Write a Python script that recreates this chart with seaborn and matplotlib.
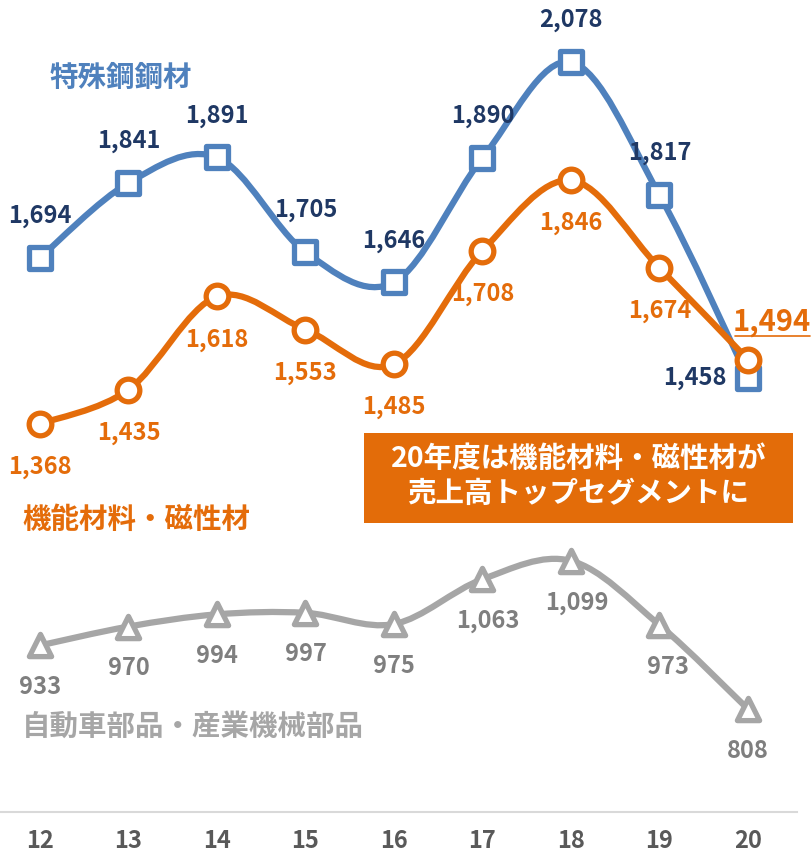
import numpy as np
import pandas as pd
import matplotlib
matplotlib.use("Agg")
import matplotlib.pyplot as plt
from matplotlib.path import Path
from matplotlib.patches import PathPatch, Rectangle
from matplotlib.lines import Line2D
import seaborn as sns

# データ（年度・セグメント別売上高）
years = ["12", "13", "14", "15", "16", "17", "18", "19", "20"]
steel = [1694, 1841, 1891, 1705, 1646, 1890, 2078, 1817, 1458]
functional = [1368, 1435, 1618, 1553, 1485, 1708, 1846, 1674, 1494]
parts = [933, 970, 994, 997, 975, 1063, 1099, 973, 808]

names = ["特殊鋼鋼材", "機能材料・磁性材", "自動車部品・産業機械部品"]
note_lines = ["20年度は機能材料・磁性材が", "売上高トップセグメントに"]

# 色
c_blue, c_blue_lbl = "#4F81BD", "#1F3864"
c_orange = "#E46C0A"
c_gray, c_gray_lbl, c_gray_name = "#A6A6A6", "#7F7F7F", "#A6A6A6"

sns.set_theme(style="white")
plt.rcParams["font.family"] = ["Noto Sans CJK JP", "DejaVu Sans"]

fig = plt.figure(figsize=(8.12, 8.55), dpi=100)
ax = fig.add_axes([0, 43 / 855, 797 / 812, 812 / 855])

x = np.arange(len(years))


def smooth_path(xs, ys):
    # Excel風のスムージング（ベジェ曲線）
    pts = np.column_stack([xs, ys]).astype(float)
    n = len(pts)
    verts, codes = [pts[0]], [Path.MOVETO]
    for i in range(n - 1):
        p0 = pts[i - 1] if i > 0 else pts[i]
        p1, p2 = pts[i], pts[i + 1]
        p3 = pts[i + 2] if i + 2 < n else pts[i + 1]
        verts += [p1 + (p2 - p0) / 6, p2 - (p3 - p1) / 6, p2]
        codes += [Path.CURVE4] * 3
    return Path(verts, codes)


def draw_series(vals, color, marker, msize, z):
    ax.add_patch(PathPatch(smooth_path(x, vals), facecolor="none", edgecolor=color,
                           lw=4.5, capstyle="round", joinstyle="round", zorder=z))
    df = pd.DataFrame({"x": x, "y": vals})
    sns.scatterplot(data=df, x="x", y="y", ax=ax, marker=marker, s=msize ** 2,
                    facecolor="white", edgecolor=color, linewidth=3.8, zorder=z + 0.5,
                    legend=False)


draw_series(parts, c_gray, "^", 16, 2)
draw_series(steel, c_blue, "s", 15.2, 3)
draw_series(functional, c_orange, "o", 16.3, 4)

lbl_kw = dict(textcoords="offset points", ha="center", va="center",
              fontsize=17, fontweight="bold")

# 特殊鋼鋼材のラベル（上）
for i, v in enumerate(steel):
    off = (0, 30) if i < len(steel) - 1 else (-38, 0)
    ax.annotate(f"{v:,}", (x[i], v), xytext=off, color=c_blue_lbl, **lbl_kw)

# 機能材料・磁性材のラベル（下）
for i, v in enumerate(functional[:-1]):
    ax.annotate(f"{v:,}", (x[i], v), xytext=(0, -31), color=c_orange, **lbl_kw)
ax.annotate(f"{functional[-1]:,}", (x[-1], functional[-1]), xytext=(17, 27),
            textcoords="offset points", ha="center", va="center",
            fontsize=21, color=c_orange, fontweight="bold")
fig.add_artist(Line2D([735 / 812, 810 / 812], [1 - 336 / 855] * 2,
                      color=c_orange, lw=1.2))

# 自動車部品・産業機械部品のラベル（下）
gray_dx = [0, 0, 0, 0, 0, 3.6, 4.3, 5.8, 0]
for i, v in enumerate(parts):
    ax.annotate(f"{v:,}", (x[i], v), xytext=(gray_dx[i], -30), color=c_gray_lbl, **lbl_kw)

# セグメント名
fig.text(50 / 812, 1 - 78 / 855, names[0], color=c_blue, fontsize=20.5,
         fontweight="bold", va="center", ha="left")
fig.text(22 / 812, 1 - 520 / 855, names[1], color=c_orange, fontsize=20.5,
         fontweight="bold", va="center", ha="left")
fig.text(22 / 812, 1 - 727 / 855, names[2], color=c_gray_name, fontsize=20.5,
         fontweight="bold", va="center", ha="left")

# コメントボックス
fig.add_artist(Rectangle((364 / 812, 1 - 523 / 855), 429 / 812, 90 / 855,
                         transform=fig.transFigure, facecolor="#E36C09",
                         edgecolor="none", zorder=5))
fig.text(578.5 / 812, 1 - 459 / 855, note_lines[0], color="white", fontsize=20.5,
         fontweight="bold", ha="center", va="center", zorder=6)
fig.text(578.5 / 812, 1 - 494 / 855, note_lines[1], color="white", fontsize=20.5,
         fontweight="bold", ha="center", va="center", zorder=6)

# 軸
ax.set_xlim(-0.452, 8.554)
ax.set_ylim(606, 2200)
ax.set_xticks(x)
ax.set_xticklabels(years, fontsize=17, fontweight="bold", color="#595959")
ax.tick_params(axis="x", length=0, pad=12)
ax.set_yticks([])
ax.set_xlabel("")
ax.set_ylabel("")
for s in ["top", "left", "right"]:
    ax.spines[s].set_visible(False)
ax.spines["bottom"].set_color("#D9D9D9")
ax.spines["bottom"].set_linewidth(1.5)
ax.patch.set_alpha(0)

fig.savefig("out.png", dpi=100)
